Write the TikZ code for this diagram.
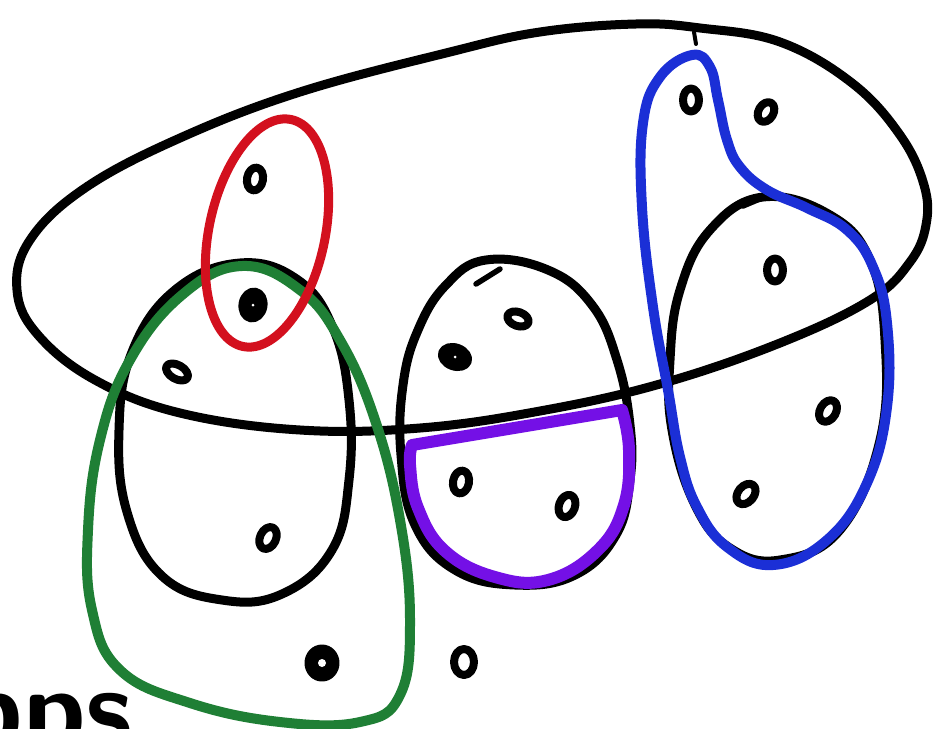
\documentclass[tikz,border=0pt]{standalone}
\usepackage{graphicx}
\usetikzlibrary{shapes.geometric}
\definecolor{hred}{HTML}{D3101E}
\definecolor{hgreen}{HTML}{1F7F35}
\definecolor{hblue}{HTML}{1B2FD6}
\definecolor{hpurple}{HTML}{7410E6}
\begin{document}
\begin{tikzpicture}[x=1pt,y=-1pt,line cap=round,line join=round,
  blk/.style={draw=black,line width=9pt},
  hedge/.style={line width=10pt},
  vring/.style={ellipse,draw=black,line width=8pt,fill=white,inner sep=0pt,minimum width=16pt,minimum height=23pt},
  vfull/.style={ellipse,draw=black,line width=7pt,fill=black,inner sep=0pt,minimum width=22pt,minimum height=28pt}]
\useasboundingbox (0,0) rectangle (939,728);
\clip (0,0) rectangle (939,728);
\fill[white] (0,0) rectangle (939,728);

% big ellipse
\draw[blk] plot[smooth cycle,tension=0.65] coordinates {(636,24) (700,28) (780,42) (852,83) (900,135) (924,185) (926,225) (910,262) (870,300) (780,343) (660,384) (540,411) (420,428) (300,430) (180,413) (95,380) (38,335) (17,290) (30,240) (85,188) (180,138) (300,92) (450,52) (540,32)};
\draw[black,line width=4pt] (694,32) -- (696,44);

% left egg
\draw[blk] plot[smooth cycle,tension=0.7] coordinates {(240,263) (298,280) (333,328) (349,400) (349,480) (332,550) (282,594) (222,600) (162,576) (127,512) (119,430) (132,352) (175,290)};

% middle egg
\draw[blk] plot[smooth cycle,tension=0.7] coordinates {(486,260) (548,270) (592,305) (617,360) (630,425) (630,480) (616,535) (575,575) (515,585) (455,570) (415,525) (401,455) (403,385) (418,330) (446,285)};
\draw[black,line width=5.5pt] (476,284) -- (500,269);

% right egg
\draw[blk] plot[smooth cycle,tension=0.7] coordinates {(763,197) (830,215) (870,260) (885,340) (880,440) (840,530) (780,560) (730,548) (695,505) (672,430) (670,360) (680,290) (710,230)};
\draw[black,line width=5.5pt] (743,206) -- (762,198);

% green hyperedge
\draw[hedge,draw=hgreen] plot[smooth cycle,tension=0.7] coordinates {(242,266) (300,290) (340,340) (375,420) (400,520) (410,620) (400,695) (360,722) (280,722) (190,703) (120,670) (92,610) (88,530) (100,440) (130,360) (182,295)};

% red hyperedge
\draw[hedge,draw=hred,line width=9pt,rotate around={-12:(267,233)}] (267,233) ellipse [x radius=58, y radius=116];

% purple hyperedge
\draw[hedge,draw=hpurple,line width=12pt] plot[smooth,tension=0.7] coordinates {(622,410) (629,450) (624,505) (598,550) (548,580) (495,577) (445,551) (418,508) (410,465) (412,445)} -- (622,410);

% blue hyperedge
\draw[hedge,draw=hblue] plot[smooth cycle,tension=0.7] coordinates {(692,55) (660,77) (643,123) (642,207) (653,307) (668,390) (680,457) (697,507) (727,547) (773,565) (827,540) (867,483) (887,407) (887,323) (873,267) (847,230) (807,208) (767,190) (740,167) (727,140) (718,100) (710,67)};

% vertices
\node[vring,rotate=-10] (v1) at (255,179) {};
\node[vfull,rotate=-10] (v2) at (253,305) {};
\node[vring,rotate=60,minimum width=14pt,minimum height=24pt] (v3) at (177,372) {};
\node[vring,rotate=-25] (v4) at (268,538) {};
\node[vfull,minimum width=28pt,minimum height=30pt] (v5) at (322,663) {};
\node[vring,minimum width=20pt,minimum height=26pt] (v6) at (464,662) {};
\node[vfull,rotate=70,minimum width=20pt,minimum height=28pt] (v7) at (455,357) {};
\node[vring,rotate=70,minimum width=14pt,minimum height=22pt] (v8) at (518,319) {};
\node[vring,rotate=-10] (v9) at (461,482) {};
\node[vring,rotate=-20] (v10) at (567,506) {};
\node[vring] (v11) at (691,100) {};
\node[vring,rotate=-30,minimum width=15pt,minimum height=21pt] (v12) at (766,112) {};
\node[vring] (v13) at (775,270) {};
\node[vring,rotate=-30] (v14) at (828,411) {};
\node[vring,rotate=-40] (v15) at (746,494) {};
\fill[white] (v5) circle (4);
\fill[white] (v2) circle (1.5);
\fill[white] (v7) circle (1.5);

% partial text at bottom
\node[anchor=base west,inner sep=0pt,font=\sffamily\bfseries\fontsize{112}{112}\selectfont] (txt) at (-40,746) {pps};
\end{tikzpicture}
\end{document}
